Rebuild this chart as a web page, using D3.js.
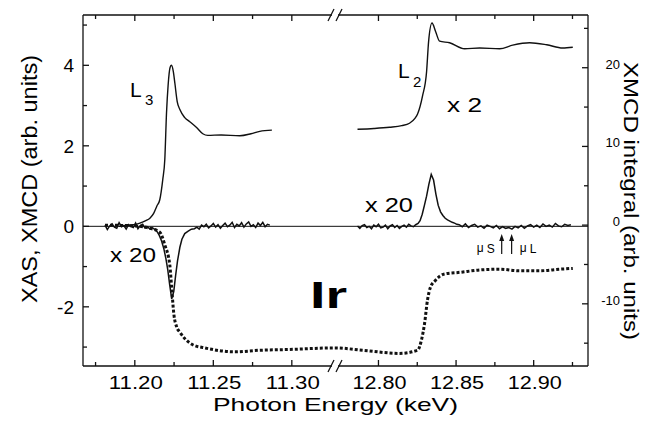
<!DOCTYPE html>
<html>
<head>
<meta charset="utf-8">
<script src="https://cdn.jsdelivr.net/npm/d3@7"></script>
<style>
  body { margin: 0; background: #fff; }
  text { font-family: "Liberation Sans", Arial, sans-serif; fill: #000; }
</style>
</head>
<body>
<script>
// XAS at the L3 edge (left panel), [keV, arb. units]
const xasL3 = [[11.1898,0.0],[11.1949,0.02],[11.1968,0.03],[11.2003,0.05],[11.2032,0.08],[11.2070,0.14],
  [11.2096,0.2],[11.2120,0.32],[11.2140,0.5],[11.2159,0.66],[11.2178,1.16],[11.2191,1.66],[11.2202,2.83],
  [11.2212,3.5],[11.2225,3.95],[11.2234,4.0],[11.2245,3.85],[11.2255,3.56],[11.2270,3.1],[11.2287,2.9],
  [11.2318,2.7],[11.2350,2.6],[11.2395,2.45],[11.2433,2.3],[11.2465,2.26],[11.2550,2.27],[11.2669,2.25],
  [11.2740,2.3],[11.2796,2.36],[11.2873,2.39]]

// XAS at the L2 edge (right panel, x 2)
const xasL2 = [[12.7865,2.41],[12.7971,2.43],[12.8071,2.46],[12.8150,2.5],[12.8200,2.56],[12.8235,2.68],
  [12.8252,2.79],[12.8284,3.24],[12.8310,3.84],[12.8323,4.59],[12.8345,5.05],[12.8368,4.84],[12.8394,4.6],
  [12.8458,4.56],[12.8555,4.41],[12.8652,4.43],[12.8781,4.41],[12.8865,4.5],[12.8974,4.56],[12.9084,4.51],
  [12.9187,4.43],[12.9252,4.45]]

// XMCD at L3 (x 20)
const xmcdL3 = [[11.1810,0.03],[11.1825,-0.08],[11.1840,0.01],[11.1855,0.06],[11.1870,-0.02],[11.1885,-0.05],
  [11.1900,0.09],[11.1915,-0.01],[11.1930,0.02],[11.1945,-0.07],[11.1960,0.04],[11.1975,0.0],[11.1990,-0.03],
  [11.2005,0.08],[11.2020,-0.06],[11.2035,0.02],[11.2050,0.05],[11.2065,-0.04],[11.2080,-0.01],[11.2095,-0.06],
  [11.2110,-0.03],[11.2125,-0.07],[11.2140,-0.12],[11.2155,-0.22],[11.2170,-0.36],[11.2185,-0.56],[11.2198,-0.8],
  [11.2210,-1.08],[11.2222,-1.45],[11.2235,-1.8],[11.2248,-1.62],[11.2260,-1.22],[11.2272,-0.86],[11.2287,-0.52],
  [11.2300,-0.32],[11.2318,-0.18],[11.2340,-0.12],[11.2360,-0.07],[11.2380,-0.06],[11.2395,-0.02],[11.2410,-0.07],
  [11.2425,0.03],[11.2440,-0.01],[11.2455,0.05],[11.2470,-0.04],[11.2485,0.01],[11.2500,0.07],[11.2515,-0.02],
  [11.2530,0.04],[11.2545,-0.05],[11.2560,0.02],[11.2575,0.08],[11.2590,-0.01],[11.2605,0.03],[11.2620,0.1],
  [11.2635,-0.03],[11.2650,0.05],[11.2665,0.01],[11.2680,0.09],[11.2695,-0.02],[11.2710,0.06],[11.2725,0.11],
  [11.2740,0.0],[11.2755,0.04],[11.2770,-0.03],[11.2785,0.08],[11.2800,0.02],[11.2815,0.1],[11.2830,-0.01],
  [11.2845,0.05],[11.2860,0.03]]

// XMCD at L2 (x 20)
const xmcdL2 = [[12.7865,0.01],[12.7880,-0.05],[12.7895,0.02],[12.7910,0.04],[12.7925,-0.03],[12.7940,0.0],
  [12.7955,-0.06],[12.7970,0.03],[12.7985,-0.01],[12.8000,0.05],[12.8015,-0.04],[12.8030,-0.02],[12.8045,0.03],
  [12.8060,-0.06],[12.8075,0.01],[12.8090,0.04],[12.8105,-0.03],[12.8120,0.02],[12.8135,-0.05],[12.8150,0.0],
  [12.8165,0.03],[12.8180,-0.02],[12.8195,0.05],[12.8210,0.01],[12.8225,-0.01],[12.8240,0.04],[12.8255,0.07],
  [12.8268,0.14],[12.8282,0.3],[12.8296,0.52],[12.8310,0.75],[12.8325,1.05],[12.8340,1.29],[12.8355,1.15],
  [12.8370,0.8],[12.8385,0.52],[12.8400,0.36],[12.8415,0.27],[12.8430,0.2],[12.8445,0.16],[12.8460,0.13],
  [12.8475,0.1],[12.8490,0.08],[12.8505,0.05],[12.852,0.04],[12.854,-0.01],[12.856,0.06],[12.858,-0.03],
  [12.860,0.02],[12.862,0.05],[12.864,-0.02],[12.866,0.01],[12.868,-0.05],[12.870,0.03],[12.872,0.0],
  [12.874,-0.04],[12.876,0.02],[12.878,-0.06],[12.880,-0.01],[12.882,-0.05],[12.884,-0.03],[12.886,-0.07],
  [12.888,0.0],[12.890,-0.04],[12.892,0.02],[12.894,-0.05],[12.896,0.01],[12.898,0.04],[12.900,-0.02],
  [12.902,0.03],[12.904,-0.03],[12.906,0.06],[12.908,0.0],[12.910,0.03],[12.912,-0.02],[12.914,0.07],
  [12.916,0.01],[12.918,-0.01],[12.920,0.05],[12.922,0.02],[12.924,0.04]]

// XMCD integral (right axis)
const integral = [[11.1810,0.0],[11.2000,-0.1],[11.2096,-0.4],[11.2159,-0.9],[11.2191,-2.5],[11.2223,-5.1],
  [11.2236,-8.3],[11.2248,-11.2],[11.2268,-13.0],[11.2287,-13.6],[11.2318,-14.4],[11.2369,-15.2],[11.2446,-15.6],
  [11.2637,-16.1],[11.2796,-15.9],[11.2987,-15.8],[11.3270,-15.6],[12.7723,-15.6],[12.7897,-15.9],[12.8135,-16.3],
  [12.8252,-15.9],[12.8277,-14.6],[12.8297,-12.5],[12.8316,-9.5],[12.8335,-7.9],[12.8368,-7.0],[12.8426,-6.2],
  [12.8523,-6.0],[12.8652,-5.7],[12.8781,-5.6],[12.8910,-5.8],[12.9039,-5.8],[12.9168,-5.6],[12.9252,-5.5]]

const xTicksLeft = [11.20, 11.25, 11.30]
const xMinorLeft = [11.175, 11.225, 11.275]
const xTicksRight = [12.80, 12.85, 12.90]
const xMinorRight = [12.825, 12.875, 12.925]
const yTicksLeft = [-2, 0, 2, 4]
const yMinorLeft = [-3, -1, 1, 3, 5]
const yTicksRight = [-10, 0, 10, 20]
const yMinorRight = [-15, -5, 5, 15, 25]
const momentArrows = [['\u03bc', 'S', 12.8794], ['\u03bc', 'L', 12.8858]]

const width = 657, height = 424
const pL = 83, pR = 588, pT = 15, pB = 366, brk = 335

const svg = d3.select('body')
  .append('svg')
  .attr('width', width)
  .attr('height', height)

svg.append('rect').attr('width', width).attr('height', height).attr('fill', '#fff')

const xl = d3.scaleLinear().domain([11.167, 11.3275]).range([pL, brk])
const xr = d3.scaleLinear().domain([12.772, 12.935]).range([brk, pR])
const xPos = (e) => e < 12 ? xl(e) : xr(e)

const yL = d3.scaleLinear().domain([-3.47, 5.25]).range([pB, pT])
const yR = d3.scaleLinear().domain([-17.9, 26.7]).range([pB, pT])

const ink = '#111'

// frame with the axis break
const frame = svg.append('g').attr('stroke', ink).attr('stroke-width', 1.3).attr('fill', 'none')
frame.append('line').attr('x1', pL).attr('x2', pL).attr('y1', pT).attr('y2', pB)
frame.append('line').attr('x1', pR).attr('x2', pR).attr('y1', pT).attr('y2', pB)
;[pT, pB].forEach((y) => {
  frame.append('line').attr('x1', pL).attr('x2', brk - 3).attr('y1', y).attr('y2', y)
  frame.append('line').attr('x1', brk + 3).attr('x2', pR).attr('y1', y).attr('y2', y)
  frame.append('line').attr('x1', brk - 7).attr('x2', brk - 1).attr('y1', y + 6).attr('y2', y - 6)
  frame.append('line').attr('x1', brk + 1).attr('x2', brk + 7).attr('y1', y + 6).attr('y2', y - 6)
})

// zero line
frame.append('line').attr('x1', pL).attr('x2', pR)
  .attr('y1', yL(0)).attr('y2', yL(0)).attr('stroke-width', 1)

// x ticks (inside, top and bottom)
const xt = (vals, sc, len) => vals.forEach((v) => {
  frame.append('line').attr('x1', sc(v)).attr('x2', sc(v)).attr('y1', pB).attr('y2', pB - len)
  frame.append('line').attr('x1', sc(v)).attr('x2', sc(v)).attr('y1', pT).attr('y2', pT + len)
})
xt(xTicksLeft, xl, 6); xt(xMinorLeft, xl, 4)
xt(xTicksRight, xr, 6); xt(xMinorRight, xr, 4)

const yt = (vals, sc, x0, dir, len) => vals.forEach((v) => {
  frame.append('line').attr('x1', x0).attr('x2', x0 + dir * len).attr('y1', sc(v)).attr('y2', sc(v))
})
yt(yTicksLeft, yL, pL, 1, 6); yt(yMinorLeft, yL, pL, 1, 4)
yt(yTicksRight, yR, pR, -1, 6); yt(yMinorRight, yR, pR, -1, 4)

// tick labels
const fmt = d3.format('.2f')
xTicksLeft.map((v) => [xl(v), v]).concat(xTicksRight.map((v) => [xr(v), v])).forEach(([x, v]) => {
  svg.append('text').attr('x', x + 1).attr('y', 389)
    .attr('text-anchor', 'middle').attr('font-size', 18)
    .attr('textLength', 54).attr('lengthAdjust', 'spacingAndGlyphs')
    .text(fmt(v))
})
yTicksLeft.forEach((v) => {
  svg.append('text').attr('x', 74).attr('y', yL(v) + 7)
    .attr('text-anchor', 'end').attr('font-size', 19).text(v)
})
yTicksRight.forEach((v) => {
  svg.append('text').attr('x', 620).attr('y', yR(v) + 1)
    .attr('text-anchor', 'end').attr('font-size', 13).text(v)
})

// axis titles
svg.append('text').attr('transform', 'translate(37,179) rotate(-90)')
  .attr('text-anchor', 'middle').attr('font-size', 22)
  .attr('textLength', 248).attr('lengthAdjust', 'spacingAndGlyphs')
  .text('XAS, XMCD (arb. units)')
svg.append('text').attr('transform', 'translate(624,201) rotate(90)')
  .attr('text-anchor', 'middle').attr('font-size', 21)
  .attr('textLength', 278).attr('lengthAdjust', 'spacingAndGlyphs')
  .text('XMCD integral  (arb. units)')
svg.append('text').attr('x', 335.5).attr('y', 411)
  .attr('text-anchor', 'middle').attr('font-size', 19)
  .attr('textLength', 245).attr('lengthAdjust', 'spacingAndGlyphs')
  .text('Photon Energy (keV)')

// curves
const lineL = d3.line().x((d) => xPos(d[0])).y((d) => yL(d[1]))
const lineR = d3.line().x((d) => xPos(d[0])).y((d) => yR(d[1]))

svg.append('path').datum(integral)
  .attr('d', lineR.curve(d3.curveMonotoneX))
  .attr('fill', 'none').attr('stroke', ink).attr('stroke-width', 3)
  .attr('stroke-dasharray', '3,2')

;[xasL3, xasL2].forEach((s) => {
  svg.append('path').datum(s)
    .attr('d', lineL.curve(d3.curveMonotoneX))
    .attr('fill', 'none').attr('stroke', ink).attr('stroke-width', 1.4)
})

;[xmcdL3, xmcdL2].forEach((s) => {
  svg.append('path').datum(s)
    .attr('d', lineL.curve(d3.curveLinear))
    .attr('fill', 'none').attr('stroke', ink).attr('stroke-width', 1.5)
})

// annotations
const label = (x, y, size, str, len, weight) => {
  const t = svg.append('text').attr('x', x).attr('y', y).attr('font-size', size).text(str)
  if (len) t.attr('textLength', len).attr('lengthAdjust', 'spacingAndGlyphs')
  if (weight) t.attr('font-weight', weight)
  return t
}
label(130, 97, 21, 'L')
label(145, 105, 15, '3')
label(398, 78, 21, 'L')
label(413, 87, 15, '2')
label(447, 112, 20, 'x 2', 35)
label(365, 212, 20, 'x 20', 48)
label(110, 262, 21, 'x 20', 46)
label(310, 308, 37, 'Ir', 37, 'bold')

momentArrows.forEach(([mu, sub, e], i) => {
  const x = xr(e)
  svg.append('line').attr('x1', x).attr('x2', x).attr('y1', 254).attr('y2', 239)
    .attr('stroke', ink).attr('stroke-width', 1.2)
  svg.append('path').attr('d', `M${x - 2.5},${241}L${x},${234}L${x + 2.5},${241}Z`).attr('fill', ink)
  const x0 = i === 0 ? x - 25 : x + 8
  label(x0, 252, 12, mu)
  label(x0 + 10, 253, 12, sub)
})
</script>
</body>
</html>
